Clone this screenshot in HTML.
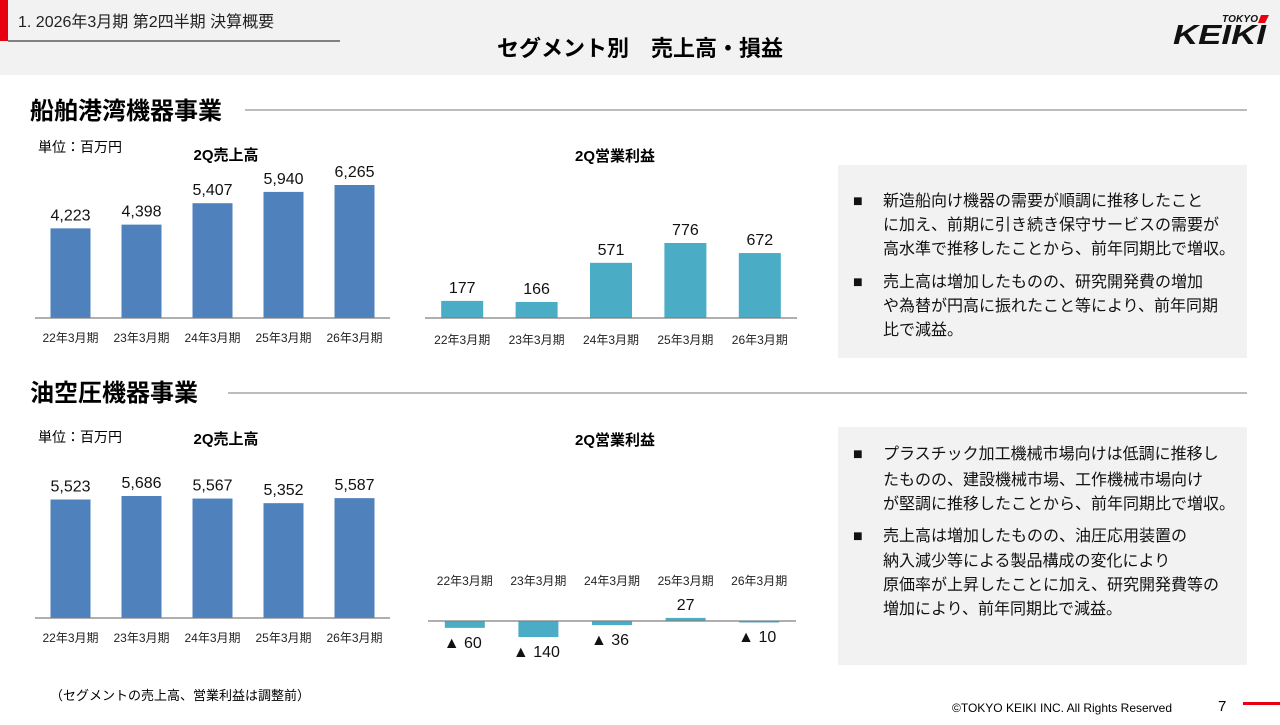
<!DOCTYPE html>
<html><head><meta charset="utf-8">
<style>
body{margin:0;width:1280px;height:720px;overflow:hidden;background:#fff;font-family:"Liberation Sans","Noto Sans CJK JP",sans-serif;}
svg text{font-family:"Liberation Sans","Noto Sans CJK JP",sans-serif;}
</style></head>
<body>
<svg id="s" width="1280" height="720" xmlns="http://www.w3.org/2000/svg">
<rect x="0" y="0" width="1280" height="75" fill="#f2f2f2"/>
<rect x="0" y="0" width="8" height="41" fill="#e60012"/>
<line x1="8" y1="41" x2="340" y2="41" stroke="#808080" stroke-width="2"/>
<text x="18" y="27" font-size="16" fill="#222">1. 2026年3月期 第2四半期 決算概要</text>
<text x="640" y="56" font-size="22" font-weight="bold" text-anchor="middle" fill="#000">セグメント別　売上高・損益</text>
<g>
<text x="1222" y="22" font-size="10" font-weight="bold" font-style="italic" fill="#111" textLength="36">TOKYO</text>
<polygon points="1261,15 1269,15 1265,23 1258,23" fill="#e60012"/>
<text x="1173" y="44" font-size="28" font-weight="bold" font-style="italic" fill="#111" textLength="93" lengthAdjust="spacingAndGlyphs">KEIKI</text>
</g>

<text x="30" y="119" font-size="24" font-weight="bold">船舶港湾機器事業</text>
<line x1="245" y1="110" x2="1247" y2="110" stroke="#a6a6a6" stroke-width="1.5"/>
<text x="38" y="152" font-size="14">単位：百万円</text>
<text x="226" y="160" font-size="15" font-weight="bold" text-anchor="middle">2Q売上高</text>
<text x="615" y="161" font-size="15" font-weight="bold" text-anchor="middle">2Q営業利益</text>

<text x="30" y="401" font-size="24" font-weight="bold">油空圧機器事業</text>
<line x1="228" y1="393" x2="1247" y2="393" stroke="#a6a6a6" stroke-width="1.5"/>
<text x="38" y="442" font-size="14">単位：百万円</text>
<text x="226" y="444" font-size="15" font-weight="bold" text-anchor="middle">2Q売上高</text>
<text x="615" y="445" font-size="15" font-weight="bold" text-anchor="middle">2Q営業利益</text>

<rect x="838" y="165" width="409" height="193" fill="#f2f2f2"/>
<rect x="838" y="427" width="409" height="238" fill="#f2f2f2"/>
<g font-size="16" fill="#111">
<text x="853" y="206">■</text>
<text x="883" y="206">新造船向け機器の需要が順調に推移したこと</text>
<text x="883" y="230">に加え、前期に引き続き保守サービスの需要が</text>
<text x="883" y="254">高水準で推移したことから、前年同期比で増収。</text>
<text x="853" y="287">■</text>
<text x="883" y="287">売上高は増加したものの、研究開発費の増加</text>
<text x="883" y="311">や為替が円高に振れたこと等により、前年同期</text>
<text x="883" y="335">比で減益。</text>
</g>
<g font-size="16" fill="#111">
<text x="853" y="459">■</text>
<text x="883" y="459">プラスチック加工機械市場向けは低調に推移し</text>
<text x="883" y="485">たものの、建設機械市場、工作機械市場向け</text>
<text x="883" y="509">が堅調に推移したことから、前年同期比で増収。</text>
<text x="853" y="541">■</text>
<text x="883" y="541">売上高は増加したものの、油圧応用装置の</text>
<text x="883" y="566">納入減少等による製品構成の変化により</text>
<text x="883" y="590">原価率が上昇したことに加え、研究開発費等の</text>
<text x="883" y="614">増加により、前年同期比で減益。</text>
</g>

<text x="50" y="700" font-size="13">（セグメントの売上高、営業利益は調整前）</text>
<text x="952" y="712" font-size="12">©TOKYO KEIKI INC. All Rights Reserved</text>
<text x="1218" y="711" font-size="15">7</text>
<rect x="1243" y="702" width="37" height="3" fill="#e60012"/>
<g id="charts"></g>
</svg>
<script>
const categories = ["22年3月期","23年3月期","24年3月期","25年3月期","26年3月期"];
const marineSales = [4223,4398,5407,5940,6265];
const marineProfit = [177,166,571,776,672];
const hydraulicSales = [5523,5686,5567,5352,5587];
const hydraulicProfit = [-60,-140,-36,27,-10];

const NS="http://www.w3.org/2000/svg";
const root=document.getElementById('charts');
function mk(tag,attrs,parent){const e=document.createElementNS(NS,tag);for(const k in attrs)e.setAttribute(k,attrs[k]);parent.appendChild(e);return e;}
function fmt(v){return v<0?"▲ "+Math.abs(v):v.toLocaleString('en-US');}

function chart(name,vals,cfg){
  const g=mk('g',{},root);
  
  
  const n=vals.length, step=(cfg.x1-cfg.x0)/n;
  const xPos=i=>cfg.x0+step*(i+0.5);
  const yPos=v=>cfg.base-v*cfg.scale;
  vals.forEach((v,i)=>{
    const y=Math.min(yPos(v),cfg.base), h=Math.max(Math.abs(v*cfg.scale),1.5);
    const r=mk('rect',{x:xPos(i)-cfg.bw/2,y:v<0?cfg.base:y,width:cfg.bw,height:h,fill:cfg.color},g);
    
    
    const ly=v>=0?yPos(v)-8:cfg.base+Math.abs(v*cfg.scale)+cfg.negOff;
    const t=mk('text',{x:xPos(i)+(v<0?-2:0),y:ly,'font-size':16,'text-anchor':'middle',fill:'#111'},g);
    t.textContent=fmt(v);
    
    
    const c=mk('text',{x:xPos(i),y:cfg.catY,'font-size':12,'text-anchor':'middle',fill:'#222'},g);
    c.textContent=categories[i];
    
    
  });
  const ax=mk('line',{x1:cfg.x0,y1:cfg.base,x2:cfg.x1,y2:cfg.base,stroke:'#7f7f7f','stroke-width':1.2},g);
  
  
}
chart('marine-sales-chart',marineSales,{x0:35,x1:390,base:318,scale:133/6265,bw:40,color:'#4f81bd',catY:342});
chart('marine-profit-chart',marineProfit,{x0:425,x1:797,base:318,scale:75/776,bw:42,color:'#4bacc6',catY:344});
chart('hydraulic-sales-chart',hydraulicSales,{x0:35,x1:390,base:618,scale:122/5686,bw:40,color:'#4f81bd',catY:642});
chart('hydraulic-profit-chart',hydraulicProfit,{x0:428,x1:796,base:621,scale:16/140,bw:40,color:'#4bacc6',catY:585,negOff:20});
</script>
</body></html>
